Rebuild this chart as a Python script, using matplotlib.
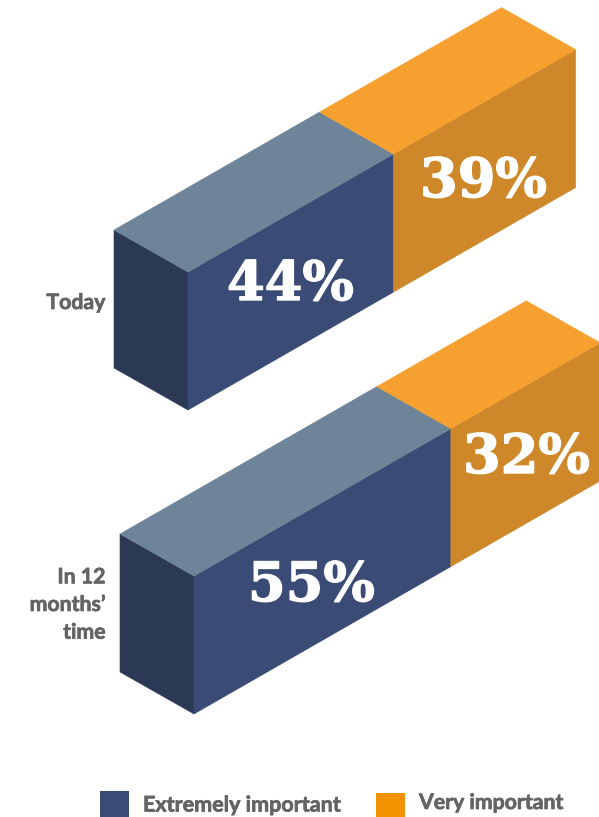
import matplotlib
matplotlib.use("Agg")
import matplotlib.pyplot as plt
import matplotlib.patheffects as pe
from matplotlib.patches import Polygon, Rectangle

# ========================
# Data
# ========================
periods = ["Today", "In 12\nmonths'\ntime"]
extremely_important = [44, 55]
very_important = [39, 32]
legend_labels = ["Extremely important", "Very important"]

# ========================
# Layout (pixels, image coordinates)
# ========================
W, H = 599, 817
PCT_DX = 4.67   # sideways run per percentage point
PCT_DY = -2.68  # rise per percentage point
DEPTH_X, DEPTH_Y = -74, -42
BAR_H = 138
origins = [(188, 272), (194, 576)]
label_y = [303, 605]
blue_text_pos = [(290.5, 285), (311.5, 586)]
orange_text_pos = [(483.5, 182), (526.5, 458)]

BLUE = "#3a4c75"
BLUE_TOP = "#6e8599"
BLUE_SIDE = "#2b3955"
ORANGE = "#ce8829"
ORANGE_TOP = "#f6a030"
ORANGE_LEG = "#f29200"
GREY = "#636466"


def face(ax, pts, color):
    ax.add_patch(Polygon(pts, fc=color, ec=color, lw=0.4))


def segment(ax, x0, y0, pct, front, top):
    x1 = x0 + pct * PCT_DX
    y1 = y0 + pct * PCT_DY
    face(ax, [(x0, y0), (x1, y1), (x1, y1 + BAR_H), (x0, y0 + BAR_H)], front)
    face(ax, [(x0, y0), (x1, y1), (x1 + DEPTH_X, y1 + DEPTH_Y), (x0 + DEPTH_X, y0 + DEPTH_Y)], top)
    return x1, y1


fig = plt.figure(figsize=(W / 100, H / 100), dpi=100)
ax = fig.add_axes([0, 0, 1, 1])
ax.set_xlim(0, W)
ax.set_ylim(H, 0)
ax.axis("off")

num_font = dict(family="DejaVu Serif", fontweight="bold", fontsize=39, color="white", ha="center", va="center",
                path_effects=[pe.withStroke(linewidth=1.0, foreground="white")])
# Lato bold comes out a bit thin next to the original, so thicken it slightly
label_font = dict(family="Lato", fontweight="bold", color=GREY,
                  path_effects=[pe.withStroke(linewidth=0.5, foreground=GREY)])

for i, ((x0, y0), a, b, name, ly) in enumerate(zip(origins, extremely_important, very_important, periods, label_y)):
    # dark end cap
    face(ax, [(x0, y0), (x0, y0 + BAR_H), (x0 + DEPTH_X, y0 + BAR_H + DEPTH_Y), (x0 + DEPTH_X, y0 + DEPTH_Y)], BLUE_SIDE)
    x1, y1 = segment(ax, x0, y0, a, BLUE, BLUE_TOP)
    x2, y2 = segment(ax, x1, y1, b, ORANGE, ORANGE_TOP)
    ax.text(*blue_text_pos[i], f"{a}%", **num_font)
    ax.text(*orange_text_pos[i], f"{b}%", **num_font)
    ax.text(105.5, ly, name.replace("'", "\u2019"), ha="right", va="center", fontsize=15.3, linespacing=1.48, **label_font)

# legend
ax.add_patch(Rectangle((100, 791), 29, 26, fc=BLUE, ec="none"))
ax.text(143, 805, legend_labels[0], ha="left", va="center", fontsize=15.5, **label_font)
ax.add_patch(Rectangle((376, 793), 29, 24, fc=ORANGE_LEG, ec="none"))
ax.text(419, 803, legend_labels[1], ha="left", va="center", fontsize=15.3, **label_font)

fig.savefig("out.png", dpi=100)
